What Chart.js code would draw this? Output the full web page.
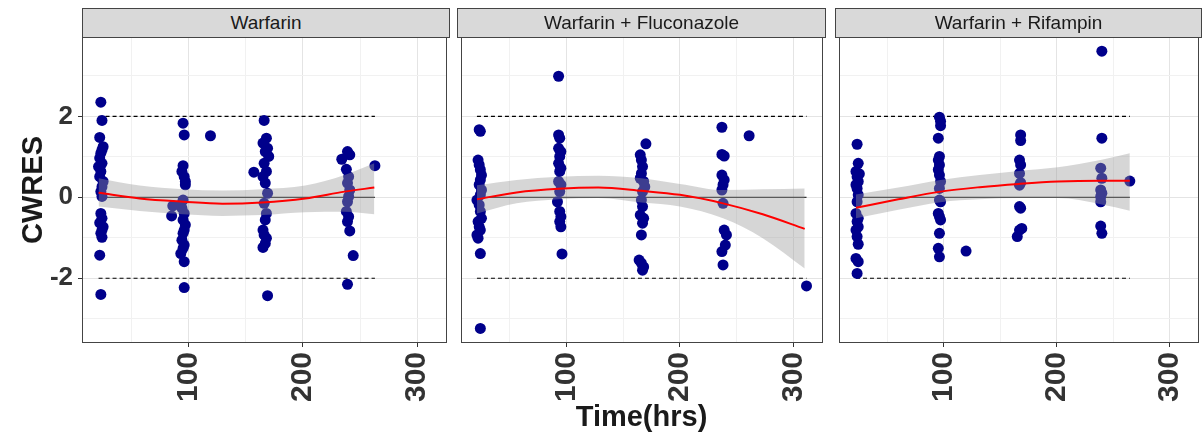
<!DOCTYPE html>
<html>
<head>
<meta charset="utf-8">
<script src="https://cdn.jsdelivr.net/npm/chart.js@4.4.1/dist/chart.umd.min.js"></script>
<style>
  body { margin: 0; background: #fff; }
  #wrap { position: relative; width: 1204px; height: 443px; overflow: hidden; background: #fff; }
  canvas { position: absolute; top: 0; }
  .strip {
    position: absolute; top: 8px; height: 30px; box-sizing: border-box;
    border: 1px solid #444; background: #d9d9d9; color: #1a1a1a;
    font: 19px "Liberation Sans", Arial, sans-serif; line-height: 27px; text-align: center;
  }
</style>
</head>
<body>
<div id="wrap">
  <canvas id="p1" width="452" height="443" style="left:0px"></canvas>
  <canvas id="p2" width="373" height="443" style="left:455px"></canvas>
  <canvas id="p3" width="371" height="443" style="left:833px"></canvas>
  <div class="strip" style="left:82px;width:368px">Warfarin</div>
  <div class="strip" style="left:457px;width:369px">Warfarin + Fluconazole</div>
  <div class="strip" style="left:835px;width:367px">Warfarin + Rifampin</div>
</div>
<script>
// observed CWRES vs time, one pair of arrays per panel
var warfTime = [
  23,24,22,25,24,23,22,24,21,23,22,25,24,23,24,23,24,22,25,24,23,24,22,23,
  95,96,95,94,96,97,97,95,93,94,96,95,97,96,95,94,96,95,93,96,96,86,85,119,
  166,168,165,169,167,170,166,168,165,167,169,166,168,167,165,166,168,167,165,169,157,
  239,241,234,238,240,239,241,240,239,238,240,239,241,244,239,263
];
var warfCwres = [
  2.35,1.90,1.48,1.25,1.17,1.09,0.97,0.84,0.76,0.64,0.51,0.39,0.26,0.14,0.02,-0.40,-0.52,-0.63,-0.73,-0.81,-0.89,-0.99,-1.43,-2.40,
  1.83,1.54,0.78,0.64,0.51,0.39,0.31,-0.07,-0.19,-0.27,-0.40,-0.56,-0.68,-0.81,-0.89,-1.06,-1.18,-1.26,-1.39,-1.59,-2.23,-0.21,-0.46,1.52,
  1.90,1.46,1.34,1.21,1.13,1.01,0.84,0.64,0.51,0.35,0.10,-0.15,-0.40,-0.56,-0.81,-0.93,-1.01,-1.14,-1.24,-2.43,0.62,
  1.13,1.05,0.94,0.69,0.51,0.35,0.18,0.02,-0.11,-0.35,-0.48,-0.60,-0.83,-1.44,-2.15,0.78
];

var flucTime = [
  23,24,22,23,24,25,24,23,25,24,21,23,24,25,22,23,24,21,22,24,24,
  93,93,94,93,95,94,93,95,94,93,95,94,92,94,95,94,95,96,
  170,165,166,167,166,165,168,169,167,166,167,165,168,167,166,164,166,168,167,
  237,237,239,237,239,238,237,238,239,241,240,237,238,
  261,311.6
];
var flucCwres = [
  1.67,1.63,0.92,0.80,0.68,0.55,0.43,0.31,0.18,0.06,-0.07,-0.19,-0.35,-0.52,-0.60,-0.73,-0.81,-0.93,-1.01,-1.39,-3.24,
  2.99,1.54,1.46,1.21,1.13,1.01,0.84,0.72,0.64,0.39,0.31,0.14,-0.11,-0.35,-0.48,-0.60,-0.73,-1.40,
  1.32,1.05,0.92,0.76,0.59,0.47,0.39,0.26,0.14,-0.07,-0.23,-0.44,-0.52,-0.64,-0.93,-1.55,-1.63,-1.72,-1.80,
  1.73,1.06,1.02,0.55,0.43,0.31,0.18,-0.15,-0.81,-0.93,-1.18,-1.34,-1.67,
  1.52,-2.19
];

var rifTime = [
  23,24,22,25,23,24,22,23,24,23,22,24,23,24,22,23,24,22,24,23,
  96,97,97,95,96,95,96,95,96,97,96,96,97,95,96,97,96,95,96,119.6,
  168,168,167,168,167,168,167,167,168,169,167,165,
  240,240,239,240,239,240,239,239,239,240,264.8
];
var rifCwres = [
  1.31,0.84,0.64,0.58,0.51,0.39,0.31,0.22,0.06,-0.11,-0.40,-0.52,-0.60,-0.73,-0.81,-0.97,-1.16,-1.51,-1.59,-1.88,
  1.98,1.88,1.77,1.46,1.01,0.92,0.80,0.68,0.55,0.39,0.22,-0.07,-0.11,-0.40,-0.48,-0.56,-0.89,-1.26,-1.47,-1.33,
  1.54,1.40,0.92,0.80,0.59,0.36,0.30,-0.23,-0.27,-0.77,-0.81,-0.97,
  3.61,1.46,0.72,0.47,0.18,0.10,0.02,-0.11,-0.71,-0.89,0.40
];

// loess smooth with its confidence band
var warfSmoothT  = [21, 57, 95, 129.5, 164, 202, 236.5, 262.5];
var warfSmooth   = [0.11, -0.03, -0.11, -0.16, -0.13, -0.03, 0.14, 0.24];
var warfSmoothHi = [0.47, 0.29, 0.20, 0.17, 0.20, 0.29, 0.55, 0.84];
var warfSmoothLo = [-0.23, -0.34, -0.42, -0.46, -0.44, -0.37, -0.36, -0.42];

var flucSmoothT  = [21, 56, 93, 128, 166, 200, 238, 273, 310];
var flucSmooth   = [-0.05, 0.12, 0.21, 0.24, 0.16, 0.06, -0.15, -0.42, -0.78];
var flucSmoothHi = [0.30, 0.43, 0.51, 0.53, 0.47, 0.33, 0.18, 0.20, 0.22];
var flucSmoothLo = [-0.40, -0.15, -0.05, -0.02, -0.13, -0.23, -0.52, -1.01, -1.76];

var rifSmoothT  = [22, 59.5, 97, 131.7, 166.4, 201, 238.8, 264.8];
var rifSmooth   = [-0.26, -0.05, 0.14, 0.25, 0.33, 0.39, 0.41, 0.41];
var rifSmoothHi = [0.07, 0.24, 0.43, 0.55, 0.65, 0.74, 0.92, 1.09];
var rifSmoothLo = [-0.52, -0.31, -0.12, -0.05, -0.02, -0.02, -0.17, -0.33];

var xTicks = [50, 100, 150, 200, 250, 300];
var yTicks = [-3, -2, -1, 0, 1, 2, 3];
var refLevels = [-2, 0, 2];

var fontFamily = '"Liberation Sans", Arial, sans-serif';

function toPoints(xs, ys) {
  return xs.map(function (x, i) { return { x: x, y: ys[i] }; });
}

// panel border drawn on top of everything
var borderPlugin = {
  id: 'panelBorder',
  afterDraw: function (chart) {
    var a = chart.chartArea, c = chart.ctx;
    c.save();
    c.strokeStyle = '#444';
    c.lineWidth = 1;
    c.strokeRect(Math.round(a.left) + 0.5, Math.round(a.top) + 0.5,
      Math.round(a.right - a.left) - 1, Math.round(a.bottom - a.top) - 1);
    c.restore();
  }
};

function makePanel(id, times, cwres, sT, sFit, sHi, sLo, opt) {
  var tMin = Math.min.apply(null, times), tMax = Math.max.apply(null, times);
  var refSets = refLevels.map(function (v) {
    return {
      type: 'line',
      data: [{ x: tMin, y: v }, { x: tMax, y: v }],
      borderColor: '#000',
      borderWidth: v === 0 ? 1 : 1.2,
      borderDash: v === 0 ? [] : [4, 3],
      pointRadius: 0,
      order: 6
    };
  });

  return new Chart(document.getElementById(id), {
    type: 'line',
    data: {
      datasets: refSets.concat([
        {
          type: 'scatter',
          data: toPoints(times, cwres),
          backgroundColor: '#00008B',
          borderWidth: 0,
          pointRadius: 5.5,
          order: 5
        },
        {
          data: toPoints(sT, sHi),
          borderColor: 'transparent',
          borderWidth: 0,
          backgroundColor: 'rgba(153,153,153,0.4)',
          fill: '+1',
          pointRadius: 0,
          cubicInterpolationMode: 'monotone',
          order: 3
        },
        {
          data: toPoints(sT, sLo),
          borderColor: 'transparent',
          borderWidth: 0,
          fill: false,
          pointRadius: 0,
          cubicInterpolationMode: 'monotone',
          order: 3
        },
        {
          data: toPoints(sT, sFit),
          borderColor: '#f00',
          borderWidth: 2,
          fill: false,
          pointRadius: 0,
          cubicInterpolationMode: 'monotone',
          order: 1
        }
      ])
    },
    options: {
      responsive: false,
      animation: false,
      events: [],
      layout: { padding: opt.padding },
      plugins: { legend: { display: false }, tooltip: { enabled: false } },
      scales: {
        x: {
          type: 'linear',
          min: 6.5,
          max: 325.7,
          afterBuildTicks: function (s) { s.ticks = xTicks.map(function (v) { return { value: v }; }); },
          afterFit: function (s) { s.height = 100; s.paddingLeft = 0; s.paddingRight = 0; },
          border: { display: false },
          grid: {
            color: function (c) { return c.tick && c.tick.value % 100 === 0 ? '#e4e4e4' : '#f1f1f1'; },
            lineWidth: 1,
            tickLength: 4,
            tickColor: function (c) { return c.tick && c.tick.value % 100 === 0 ? '#333' : 'rgba(0,0,0,0)'; }
          },
          ticks: {
            autoSkip: false,
            minRotation: 90,
            maxRotation: 90,
            padding: 5,
            color: '#333',
            font: { family: fontFamily, size: 30, weight: 'bold' },
            callback: function (v) { return v % 100 === 0 ? String(v) : ''; }
          },
          title: {
            display: !!opt.xTitle,
            text: 'Time(hrs)',
            color: '#1a1a1a',
            font: { family: fontFamily, size: 29, weight: 'bold' },
            padding: { top: 0, bottom: 8 }
          }
        },
        y: {
          type: 'linear',
          min: -3.6,
          max: 3.96,
          afterBuildTicks: function (s) { s.ticks = yTicks.map(function (v) { return { value: v }; }); },
          afterFit: function (s) { s.width = opt.yWidth; s.paddingTop = 0; s.paddingBottom = 0; },
          border: { display: false },
          grid: {
            color: function (c) { return c.tick && c.tick.value % 2 === 0 ? '#e4e4e4' : '#f1f1f1'; },
            lineWidth: 1,
            drawTicks: opt.yAxis,
            tickLength: 4,
            tickColor: function (c) { return c.tick && c.tick.value % 2 === 0 ? '#333' : 'rgba(0,0,0,0)'; }
          },
          ticks: {
            display: opt.yAxis,
            padding: 5,
            color: '#333',
            font: { family: fontFamily, size: 26, weight: 'bold' },
            callback: function (v) { return v % 2 === 0 ? String(v) : ''; }
          },
          title: {
            display: opt.yAxis,
            text: 'CWRES',
            color: '#1a1a1a',
            font: { family: fontFamily, size: 29, weight: 'bold' },
            padding: { top: 17, bottom: 0 }
          }
        }
      }
    },
    plugins: [borderPlugin]
  });
}

makePanel('p1', warfTime, warfCwres, warfSmoothT, warfSmooth, warfSmoothHi, warfSmoothLo,
  { padding: { top: 37, right: 2, bottom: 0, left: 0 }, yWidth: 82, yAxis: true, xTitle: false });
makePanel('p2', flucTime, flucCwres, flucSmoothT, flucSmooth, flucSmoothHi, flucSmoothLo,
  { padding: { top: 37, right: 2, bottom: 0, left: 2 }, yWidth: 0, yAxis: false, xTitle: true });
makePanel('p3', rifTime, rifCwres, rifSmoothT, rifSmooth, rifSmoothHi, rifSmoothLo,
  { padding: { top: 37, right: 2, bottom: 0, left: 2 }, yWidth: 0, yAxis: false, xTitle: false });
</script>
</body>
</html>
